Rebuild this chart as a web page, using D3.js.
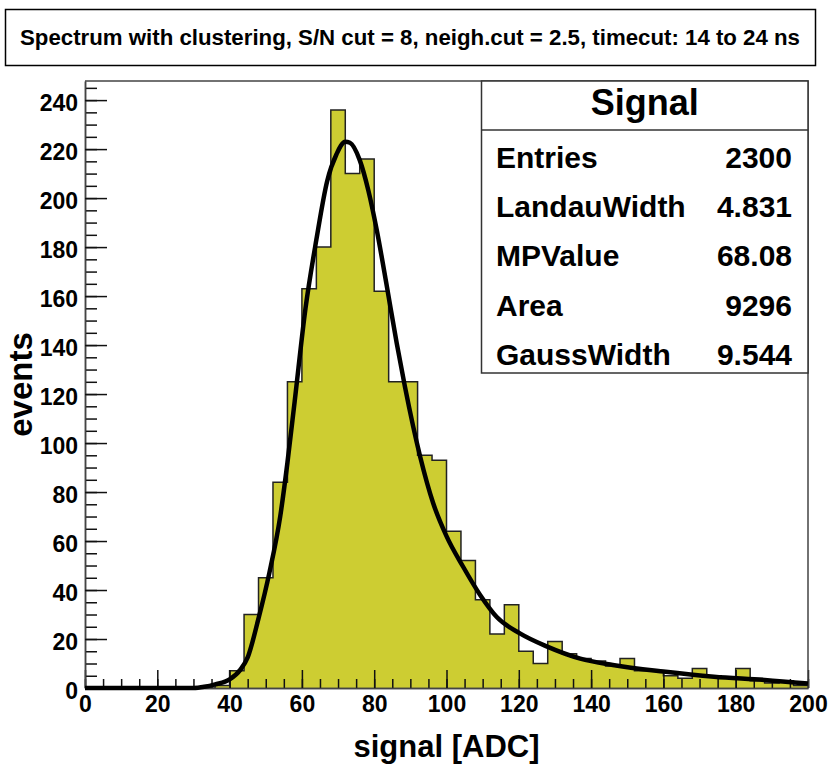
<!DOCTYPE html>
<html>
<head>
<meta charset="utf-8">
<script src="https://cdn.jsdelivr.net/npm/d3@7"></script>
<style>
  body { margin: 0; background: #fff; }
  text { font-family: "Liberation Sans", Arial, Helvetica, sans-serif; font-weight: bold; }
</style>
</head>
<body>
<script>
// histogram: 50 bins of 4 ADC from 0 to 200
const binLow = d3.range(0, 200, 4);
const counts = [
  0, 0, 0, 0, 0, 0, 0, 0, 0, 1,
  7, 30, 45, 84, 125, 163, 180, 236, 210, 216,
  162, 125, 125, 95, 93, 64, 52, 36, 22, 34,
  15, 10, 19, 14, 12, 11, 9, 12, 7, 7,
  5, 4, 8, 5, 4, 8, 3, 2, 3, 1
];

// fit curve
const fitX = [0, 30, 33, 36, 40, 43, 45, 48, 51, 54, 56, 58, 61, 64, 67, 69.6, 72, 73.3, 76, 78.4,
              80.7, 83.5, 86.2, 88.5, 92.7, 96.3, 100, 104.6, 109.3, 113.9, 120.3, 127.7, 137, 146,
              160, 174, 188, 200];
const fitY = [0, 0, 0.5, 1.5, 3.5, 7.5, 12.5, 28.4, 47, 70, 92, 117, 155, 183, 207, 218, 223, 222.6, 215.5, 203,
              187, 164, 141, 123, 94.5, 75.5, 62, 49.5, 38, 29, 22.3, 17, 12, 9.4,
              6.7, 4.6, 3.3, 1.8];

const xMajor = d3.range(0, 201, 20);
const xMinor = d3.range(0, 201, 5);
const yMajor = d3.range(0, 241, 20);
const yMinor = d3.range(0, 246, 5);

const statNames = ["Entries", "LandauWidth", "MPValue", "Area", "GaussWidth"];
const statValues = ["2300", "4.831", "68.08", "9296", "9.544"];

const W = 831, H = 765;
const frame = {left: 85, right: 808, top: 81, bottom: 688};

var svg = d3.select("body").append("svg")
   .attr("width", W)
   .attr("height", H);

var x = d3.scaleLinear()
   .domain([0, 200])
   .range([frame.left, frame.right]);
var y = d3.scaleLinear()
   .domain([0, 247.8])
   .range([frame.bottom, frame.top]);

// title box
svg.append("rect")
   .attr("x", 5.5).attr("y", 9.5)
   .attr("width", 810).attr("height", 56)
   .attr("fill", "#fff").attr("stroke", "#000").attr("stroke-width", 1.5);
svg.append("text")
   .attr("x", 410).attr("y", 45)
   .attr("text-anchor", "middle")
   .attr("font-size", 22)
   .attr("textLength", 780).attr("lengthAdjust", "spacingAndGlyphs")
   .text("Spectrum with clustering, S/N cut = 8, neigh.cut = 2.5, timecut: 14 to 24 ns");

// histogram fill + contour
const steps = binLow.map((b, i) => [b, counts[i]]);
steps.push([200, counts[counts.length - 1]]);

svg.append("path")
   .datum(steps)
   .attr("fill", "#cdcd32")
   .attr("d", d3.area().curve(d3.curveStepAfter)
      .x(d => x(d[0])).y0(y(0)).y1(d => y(d[1])));

svg.append("path")
   .datum(steps)
   .attr("fill", "none")
   .attr("stroke", "#222")
   .attr("stroke-width", 1.5)
   .attr("d", d3.line().curve(d3.curveStepAfter)
      .x(d => x(d[0])).y(d => y(d[1])));

// axes, ticks inside the frame
svg.append("g")
   .attr("transform", "translate(0," + frame.bottom + ")")
   .call(d3.axisBottom(x).tickValues(xMinor).tickSize(-9).tickSizeOuter(0).tickFormat(""));
svg.append("g")
   .attr("transform", "translate(0," + frame.bottom + ")")
   .call(d3.axisBottom(x).tickValues(xMajor).tickSize(-18).tickSizeOuter(0).tickPadding(8))
   .call(g => g.selectAll("text").attr("font-size", 23));

svg.append("g")
   .attr("transform", "translate(" + frame.left + ",0)")
   .call(d3.axisLeft(y).tickValues(yMinor).tickSize(-12).tickSizeOuter(0).tickFormat(""));
svg.append("g")
   .attr("transform", "translate(" + frame.left + ",0)")
   .call(d3.axisLeft(y).tickValues(yMajor).tickSize(-22).tickSizeOuter(0).tickPadding(7))
   .call(g => g.selectAll("text").attr("font-size", 23).attr("dy", "0.45em"));

svg.selectAll(".tick line").attr("stroke", "#111").attr("stroke-width", 1.5);
svg.selectAll(".domain").attr("stroke", "#444").attr("stroke-width", 1.5);
svg.selectAll(".tick text").attr("fill", "#000").style("font-family", "Liberation Sans, Arial, sans-serif");

// top and right frame edges
svg.append("path")
   .attr("d", "M" + frame.left + "," + frame.top + "H" + frame.right + "V" + frame.bottom)
   .attr("fill", "none").attr("stroke", "#444").attr("stroke-width", 1.5);

// fit
svg.append("path")
   .datum(fitX.map((v, i) => [v, fitY[i]]))
   .attr("fill", "none")
   .attr("stroke", "#000")
   .attr("stroke-width", 4.5)
   .attr("d", d3.line().curve(d3.curveMonotoneX)
      .x(d => x(d[0])).y(d => y(d[1])));

// axis titles
svg.append("text")
   .attr("x", (frame.left + frame.right) / 2).attr("y", 757)
   .attr("text-anchor", "middle")
   .attr("font-size", 31)
   .text("signal [ADC]");
svg.append("text")
   .attr("transform", "translate(32," + (frame.top + frame.bottom) / 2 + ") rotate(-90)")
   .attr("text-anchor", "middle")
   .attr("font-size", 33)
   .text("events");

// stats box
const sb = {x: 481.5, y: 81, w: 326.5, h: 292, head: 49};
svg.append("rect")
   .attr("x", sb.x).attr("y", sb.y).attr("width", sb.w).attr("height", sb.h)
   .attr("fill", "#fff").attr("stroke", "#333").attr("stroke-width", 1.5);
svg.append("line")
   .attr("x1", sb.x).attr("x2", sb.x + sb.w)
   .attr("y1", sb.y + sb.head).attr("y2", sb.y + sb.head)
   .attr("stroke", "#333").attr("stroke-width", 1.5);
svg.append("text")
   .attr("x", sb.x + sb.w / 2).attr("y", 115)
   .attr("text-anchor", "middle")
   .attr("font-size", 36)
   .text("Signal");

svg.selectAll(".sname")
   .data(statNames)
   .enter()
   .append("text")
   .attr("class", "sname")
   .attr("x", 496)
   .attr("y", (d, i) => 168 + i * 49.2)
   .attr("font-size", 30)
   .text(d => d);
svg.selectAll(".sval")
   .data(statValues)
   .enter()
   .append("text")
   .attr("class", "sval")
   .attr("x", 792)
   .attr("y", (d, i) => 168 + i * 49.2)
   .attr("text-anchor", "end")
   .attr("font-size", 30)
   .text(d => d);
</script>
</body>
</html>
